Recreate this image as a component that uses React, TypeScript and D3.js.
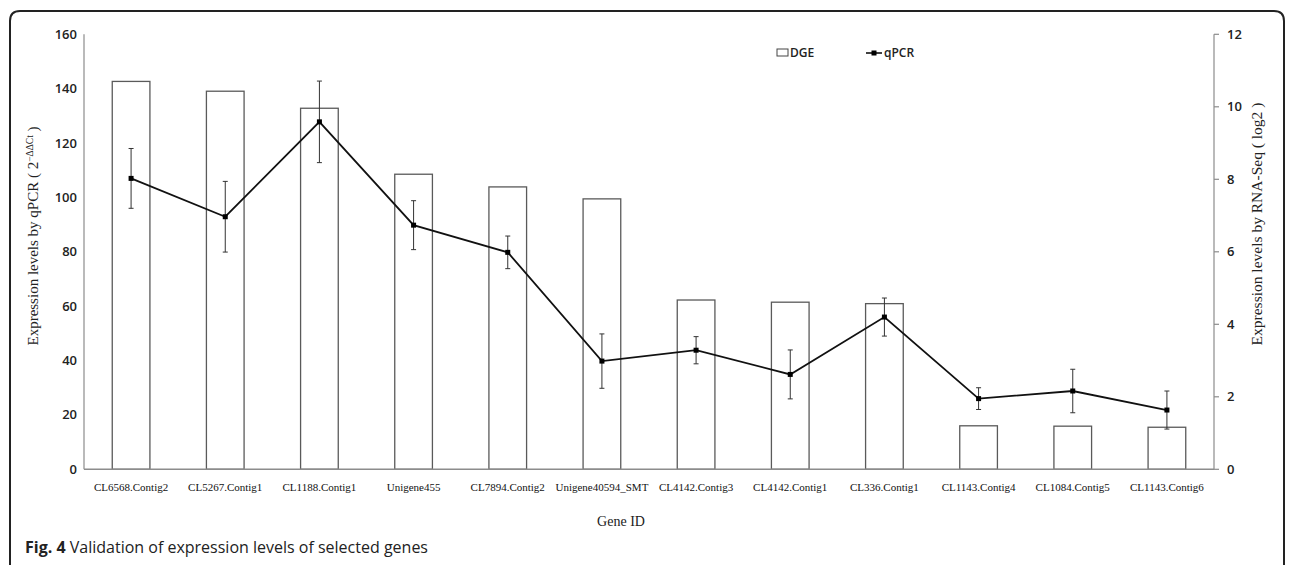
import React from "react";
import * as d3 from "d3";

// gene ids on the x axis
const genes = [
  "CL6568.Contig2",
  "CL5267.Contig1",
  "CL1188.Contig1",
  "Unigene455",
  "CL7894.Contig2",
  "Unigene40594_SMT",
  "CL4142.Contig3",
  "CL4142.Contig1",
  "CL336.Contig1",
  "CL1143.Contig4",
  "CL1084.Contig5",
  "CL1143.Contig6",
];

// DGE bars, right axis (log2)
const dge = [10.7, 10.43, 9.96, 8.14, 7.79, 7.46, 4.67, 4.61, 4.57, 1.2, 1.19, 1.16];

// qPCR line, left axis (2^-ddCt) and its error bars
const qpcr = [107.0, 92.9, 127.8, 89.8, 79.8, 39.8, 43.8, 34.9, 56.0, 26.0, 28.8, 21.8];
const qpcrErr = [11, 13, 15, 9, 6, 10, 5, 9, 7, 4, 8, 7];

const leftTicks = [0, 20, 40, 60, 80, 100, 120, 140, 160];
const rightTicks = [0, 2, 4, 6, 8, 10, 12];

const W = 1292;
const H = 565;
const plot = { left: 84, right: 1214, top: 34.3, bottom: 469.3 };

const sansFont = "'Open Sans', 'Noto Sans', sans-serif";
const serifFont = "'Liberation Serif', 'DejaVu Serif', serif";

export default function App() {
  const x = d3
    .scaleBand<string>()
    .domain(genes)
    .range([plot.left, plot.right])
    .paddingInner(0.6)
    .paddingOuter(0.3);
  const yLeft = d3.scaleLinear().domain([0, 160]).range([plot.bottom, plot.top]);
  const yRight = d3.scaleLinear().domain([0, 12]).range([plot.bottom, plot.top]);

  const cx = (g: string) => (x(g) || 0) + x.bandwidth() / 2;

  const line = d3
    .line<number>()
    .x((_, i) => cx(genes[i]))
    .y((d) => yLeft(d));

  const axisColor = "#8c8c8c";
  const barStroke = "#5a5a5a";

  return (
    <svg
      width={W}
      height={H}
      style={{ position: "absolute", left: 0, top: 0, background: "#fff" }}
    >
      {/* frame */}
      <path
        d={`M10,${H + 20} L10,21 Q10,11 20,11 L1274,11 Q1284,11 1284,21 L1284,${H + 20}`}
        fill="none"
        stroke="#222"
        strokeWidth={2}
      />

      {/* bars */}
      {genes.map((g, i) => (
        <rect
          key={g}
          x={x(g)}
          y={yRight(dge[i])}
          width={x.bandwidth()}
          height={plot.bottom - yRight(dge[i])}
          fill="#fff"
          stroke={barStroke}
          strokeWidth={1.3}
        />
      ))}

      {/* axes */}
      <line x1={plot.left} x2={plot.left} y1={plot.top} y2={plot.bottom} stroke={axisColor} strokeWidth={1.2} />
      <line x1={plot.right} x2={plot.right} y1={plot.top} y2={plot.bottom} stroke={axisColor} strokeWidth={1.2} />
      <line x1={plot.left} x2={plot.right} y1={plot.bottom} y2={plot.bottom} stroke={axisColor} strokeWidth={1.4} />

      {leftTicks.map((t) => (
        <text
          key={"l" + t}
          x={77}
          y={yLeft(t)}
          dy="0.35em"
          textAnchor="end"
          fontFamily={sansFont}
          fontWeight={600}
          fontSize={13}
          fill="#222"
        >
          {t}
        </text>
      ))}

      {rightTicks.map((t) => (
        <g key={"r" + t}>
          <line x1={plot.right} x2={plot.right + 5} y1={yRight(t)} y2={yRight(t)} stroke={axisColor} strokeWidth={1.2} />
          <text
            x={1227}
            y={yRight(t)}
            dy="0.35em"
            fontFamily={sansFont}
            fontWeight={600}
            fontSize={13}
            fill="#222"
          >
            {t}
          </text>
        </g>
      ))}

      {genes.map((g) => (
        <text
          key={"x" + g}
          x={cx(g)}
          y={491}
          textAnchor="middle"
          fontFamily={serifFont}
          fontSize={11}
          fill="#111"
        >
          {g}
        </text>
      ))}

      {/* error bars */}
      {genes.map((g, i) => {
        const xc = cx(g);
        const hi = yLeft(qpcr[i] + qpcrErr[i]);
        const lo = yLeft(qpcr[i] - qpcrErr[i]);
        return (
          <g key={"e" + g} stroke="#333" strokeWidth={1}>
            <line x1={xc} x2={xc} y1={hi} y2={lo} />
            <line x1={xc - 2.5} x2={xc + 2.5} y1={hi} y2={hi} />
            <line x1={xc - 2.5} x2={xc + 2.5} y1={lo} y2={lo} />
          </g>
        );
      })}

      {/* qPCR line */}
      <path d={line(qpcr) || ""} fill="none" stroke="#111" strokeWidth={1.8} />
      {qpcr.map((v, i) => (
        <rect
          key={"m" + i}
          x={cx(genes[i]) - 2.5}
          y={yLeft(v) - 2.5}
          width={5}
          height={5}
          fill="#000"
        />
      ))}

      {/* legend */}
      <rect x={777} y={49} width={11} height={7} fill="#fff" stroke="#444" strokeWidth={1} />
      <text x={790} y={57} fontFamily={sansFont} fontSize={12} fontWeight={600} fill="#222">
        DGE
      </text>
      <line x1={866} x2={882} y1={53} y2={53} stroke="#111" strokeWidth={1.6} />
      <rect x={871.5} y={50.5} width={5} height={5} fill="#000" />
      <text x={884} y={57} fontFamily={sansFont} fontSize={12} fontWeight={600} fill="#222">
        qPCR
      </text>

      {/* axis titles */}
      <text
        transform={`translate(38, 236) rotate(-90)`}
        textAnchor="middle"
        fontFamily={serifFont}
        fontSize={15}
        fill="#222"
      >
        Expression levels by qPCR ( 2
        <tspan fontSize={9.5} dy={-5}>
          −ΔΔCt
        </tspan>
        <tspan dy={5}> )</tspan>
      </text>
      <text
        transform={`translate(1262, 224) rotate(-90)`}
        textAnchor="middle"
        fontFamily={serifFont}
        fontSize={15.5}
        fill="#222"
      >
        Expression levels by RNA-Seq ( log2 )
      </text>
      <text x={621} y={526} textAnchor="middle" fontFamily={serifFont} fontSize={14} fill="#222">
        Gene ID
      </text>

      {/* caption */}
      <text x={25} y={553} fontFamily={sansFont} fontSize={16} fill="#222">
        <tspan fontWeight={700}>Fig. 4</tspan> Validation of expression levels of selected genes
      </text>
    </svg>
  );
}
